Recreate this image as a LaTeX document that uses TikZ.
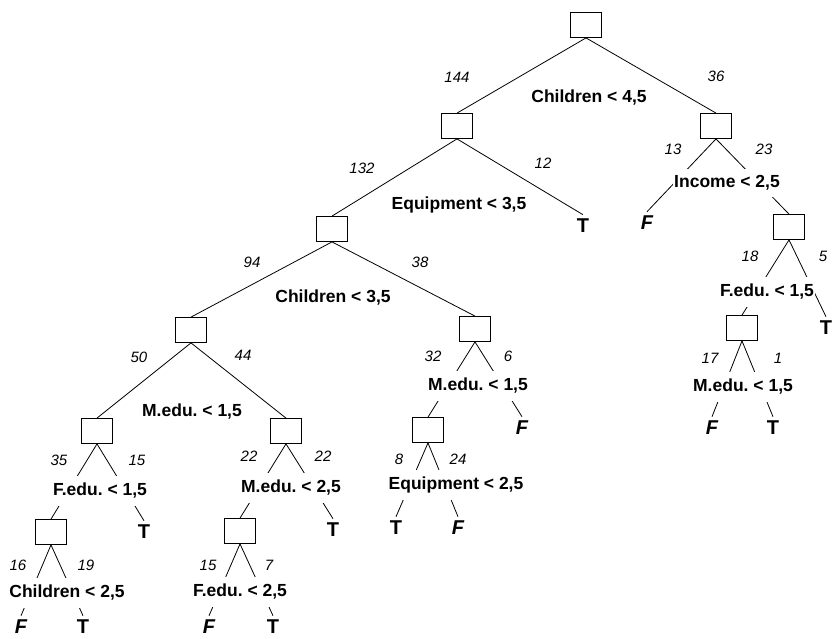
\documentclass[tikz,border=0pt]{standalone}
\usepackage{fontspec}
\setmainfont{Liberation Sans}
\frenchspacing
\begin{document}
\begin{tikzpicture}[x=1pt, y=-1pt, line width=0.8pt,
    box/.style={draw, minimum width=31pt, minimum height=25pt, inner sep=0pt},
    cond/.style={fill=white, inner xsep=1pt, inner ysep=7pt, font=\fontsize{17.5}{20}\selectfont\bfseries},
    num/.style={inner sep=0pt, font=\fontsize{15}{17}\selectfont\itshape},
    leaft/.style={inner sep=4pt, font=\fontsize{20}{22}\selectfont\bfseries},
    leaff/.style={inner sep=4pt, font=\fontsize{20}{22}\selectfont\bfseries\itshape}]

  \useasboundingbox (0,0) rectangle (835,638);

  % boxes
  \node[box] (root) at (586,25) {};
  \node[box] (l) at (457,126) {};
  \node[box] (r) at (716,126) {};
  \node[box] (ll) at (332,229) {};
  \node[box] (rr) at (789,227) {};
  \node[box] (lll) at (191,330) {};
  \node[box] (llr) at (475,329) {};
  \node[box] (rrl) at (742,328) {};
  \node[box] (llll) at (97,431) {};
  \node[box] (lllr) at (286,431) {};
  \node[box] (llrl) at (428,430) {};
  \node[box] (lllll) at (51,532) {};
  \node[box] (lllrl) at (240,531) {};

  % leaves
  \node[leaft] (lr) at (583,226) {T};
  \node[leaff] (rl) at (647,223) {F};
  \node[leaft] (rrr) at (826,328) {T};
  \node[leaff] (rrll) at (712,428) {F};
  \node[leaft] (rrlr) at (773,428) {T};
  \node[leaff] (llrr) at (522,428) {F};
  \node[leaft] (llrll) at (396,528) {T};
  \node[leaff] (llrlr) at (458,528) {F};
  \node[leaft] (llllr) at (144,532) {T};
  \node[leaft] (lllrr) at (333,530) {T};
  \node[leaff] (llllll) at (21,627) {F};
  \node[leaft] (lllllr) at (83,627) {T};
  \node[leaff] (lllrll) at (209,627) {F};
  \node[leaft] (lllrlr) at (273,627) {T};

  \draw (root.south) -- (l.north);
  \draw (root.south) -- (r.north);
  \draw (l.south) -- (ll.north);
  \draw (l.south) -- (lr.north);
  \draw (r.south) -- (rl.north);
  \draw (r.south) -- (rr.north);
  \draw (ll.south) -- (lll.north);
  \draw (ll.south) -- (llr.north);
  \draw (rr.south) -- (rrl.north);
  \draw (rr.south) -- (rrr.north);
  \draw (lll.south) -- (llll.north);
  \draw (lll.south) -- (lllr.north);
  \draw (llr.south) -- (llrl.north);
  \draw (llr.south) -- (llrr.north);
  \draw (rrl.south) -- (rrll.north);
  \draw (rrl.south) -- (rrlr.north);
  \draw (llll.south) -- (lllll.north);
  \draw (llll.south) -- (llllr.north);
  \draw (lllr.south) -- (lllrl.north);
  \draw (lllr.south) -- (lllrr.north);
  \draw (llrl.south) -- (llrll.north);
  \draw (llrl.south) -- (llrlr.north);
  \draw (lllll.south) -- (llllll.north);
  \draw (lllll.south) -- (lllllr.north);
  \draw (lllrl.south) -- (lllrll.north);
  \draw (lllrl.south) -- (lllrlr.north);

  % split rules
  \node[cond] (q-root) at (589,98) {Children < 4,5};
  \node[cond] (q-l) at (459,205) {Equipment < 3,5};
  \node[cond] (q-r) at (727,183) {Income < 2,5};
  \node[cond] (q-ll) at (333,298) {Children < 3,5};
  \node[cond] (q-rr) at (767,292) {F.edu. < 1,5};
  \node[cond] (q-lll) at (192,412) {M.edu. < 1,5};
  \node[cond] (q-llr) at (478,386) {M.edu. < 1,5};
  \node[cond] (q-rrl) at (743,387) {M.edu. < 1,5};
  \node[cond] (q-llll) at (100,491) {F.edu. < 1,5};
  \node[cond] (q-lllr) at (291,488) {M.edu. < 2,5};
  \node[cond] (q-llrl) at (456,485) {Equipment < 2,5};
  \node[cond] (q-lllll) at (67,593) {Children < 2,5};
  \node[cond] (q-lllrl) at (240,592) {F.edu. < 2,5};

  % counts
  \node[num] (n-l) at (457,77) {144};
  \node[num] (n-r) at (716,76) {36};
  \node[num] (n-ll) at (362,168) {132};
  \node[num] (n-lr) at (543,163) {12};
  \node[num] (n-rl) at (673,149) {13};
  \node[num] (n-rr) at (764,149) {23};
  \node[num] (n-lll) at (252,262) {94};
  \node[num] (n-llr) at (420,262) {38};
  \node[num] (n-rrl) at (750,256) {18};
  \node[num] (n-rrr) at (823,256) {5};
  \node[num] (n-llll) at (139,357) {50};
  \node[num] (n-lllr) at (243,355) {44};
  \node[num] (n-llrl) at (433,356) {32};
  \node[num] (n-llrr) at (508,356) {6};
  \node[num] (n-rrll) at (710,358) {17};
  \node[num] (n-rrlr) at (778,358) {1};
  \node[num] (n-lllll) at (59,460) {35};
  \node[num] (n-llllr) at (137,460) {15};
  \node[num] (n-lllrl) at (249,456) {22};
  \node[num] (n-lllrr) at (323,456) {22};
  \node[num] (n-llrll) at (399,459) {8};
  \node[num] (n-llrlr) at (458,459) {24};
  \node[num] (n-llllll) at (18,565) {16};
  \node[num] (n-lllllr) at (86,565) {19};
  \node[num] (n-lllrll) at (208,565) {15};
  \node[num] (n-lllrlr) at (269,565) {7};

\end{tikzpicture}
\end{document}
